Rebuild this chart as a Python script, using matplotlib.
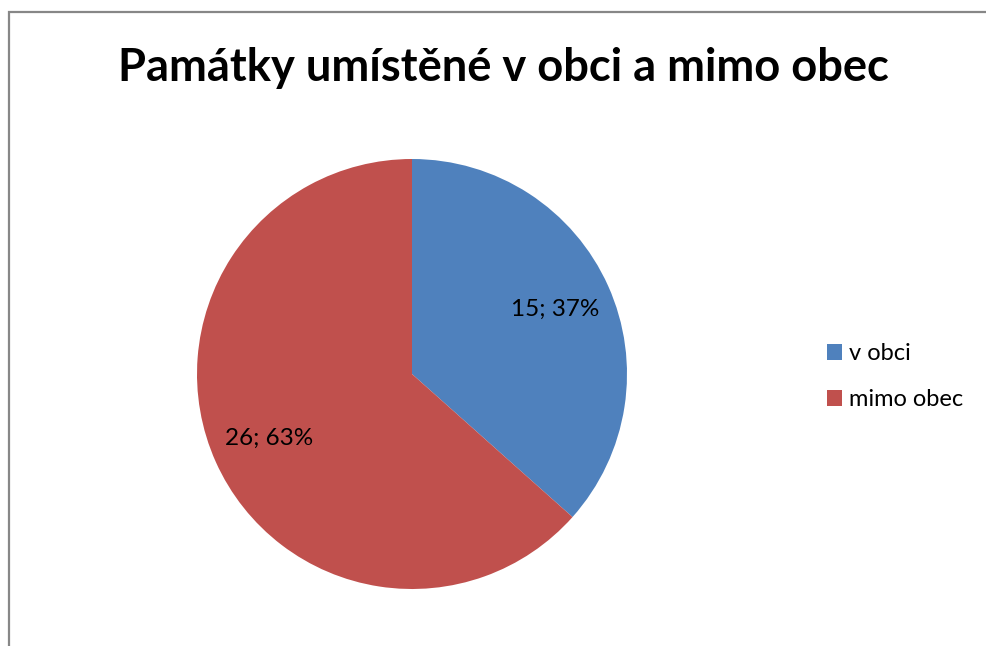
import matplotlib
matplotlib.use("Agg")
import matplotlib.pyplot as plt
from matplotlib.patches import Rectangle

W, H = 986, 646

title = "Památky umístěné v obci a mimo obec"
labels = ["v obci", "mimo obec"]
values = [15, 26]
colors = ["#4F81BD", "#C0504D"]

plt.rcParams["font.family"] = ["Lato", "DejaVu Sans"]

fig = plt.figure(figsize=(W / 100, H / 100), dpi=100)

# outer chart frame (runs off the right and bottom edge)
fig.patches.append(Rectangle((9 / W, -0.1), 1.2, (H - 12) / H + 0.1,
                             transform=fig.transFigure, fill=False,
                             edgecolor="#878787", linewidth=1.6))

fig.text(503 / W, 1 - 68 / H, title, ha="center", va="center",
         fontsize=32.6, fontweight="bold")

# pie: centre (412, 374), radius 215 px
cx, cy, r = 412, 374, 215
ax = fig.add_axes([(cx - r) / W, (H - cy - r) / H, 2 * r / W, 2 * r / H])
total = sum(values)
wedges, texts, autotexts = ax.pie(
    values, colors=colors, startangle=90, counterclock=False,
    autopct=lambda p: f"{round(p * total / 100)}; {p:.0f}%",
    pctdistance=0.73, wedgeprops=dict(linewidth=0),
    textprops=dict(fontsize=17.5, color="black"))
ax.set_xlim(-1, 1)
ax.set_ylim(-1, 1)
ax.set_aspect("equal")
ax.axis("off")

leg = fig.legend(wedges, labels, loc="upper left",
                 bbox_to_anchor=(818 / W, 1 - 334 / H), frameon=False,
                 fontsize=17, handlelength=0.62, handleheight=0.62,
                 handletextpad=0.3, labelspacing=1.05, borderaxespad=0)

fig.savefig("out.png", dpi=100)
